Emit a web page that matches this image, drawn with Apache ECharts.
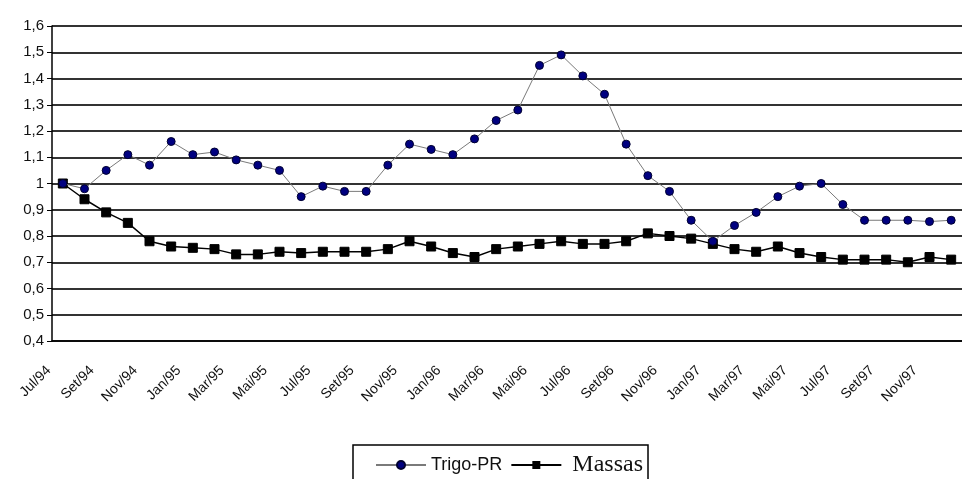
<!DOCTYPE html>
<html><head><meta charset="utf-8">
<script src="https://cdn.jsdelivr.net/npm/echarts@6/dist/echarts.min.js"></script>
<style>html,body{margin:0;padding:0;background:#fff;}#c{width:962px;height:479px;}</style>
</head><body><div id="c"></div>
<script>
const categories = ['Jul/94','Ago/94','Set/94','Out/94','Nov/94','Dez/94','Jan/95','Fev/95','Mar/95','Abr/95','Mai/95','Jun/95','Jul/95','Ago/95','Set/95','Out/95','Nov/95','Dez/95','Jan/96','Fev/96','Mar/96','Abr/96','Mai/96','Jun/96','Jul/96','Ago/96','Set/96','Out/96','Nov/96','Dez/96','Jan/97','Fev/97','Mar/97','Abr/97','Mai/97','Jun/97','Jul/97','Ago/97','Set/97','Out/97','Nov/97','Dez/97'];
const trigoPR = [1.00,0.98,1.05,1.11,1.07,1.16,1.11,1.12,1.09,1.07,1.05,0.95,0.99,0.97,0.97,1.07,1.15,1.13,1.11,1.17,1.24,1.28,1.45,1.49,1.41,1.34,1.15,1.03,0.97,0.86,0.78,0.84,0.89,0.95,0.99,1.00,0.92,0.86,0.86,0.86,0.855,0.86];
const massas = [1.00,0.94,0.89,0.85,0.78,0.76,0.755,0.75,0.73,0.73,0.74,0.735,0.74,0.74,0.74,0.75,0.78,0.76,0.735,0.72,0.75,0.76,0.77,0.78,0.77,0.77,0.78,0.81,0.80,0.79,0.77,0.75,0.74,0.76,0.735,0.72,0.71,0.71,0.71,0.70,0.72,0.71];
const yMin = 0.4, yMax = 1.6, yStep = 0.1;

const chart = echarts.init(document.getElementById('c'));
chart.setOption({
  animation: false,
  backgroundColor: '#fff',
  grid: { left: 52, top: 26, bottom: 138, right: -11, containLabel: false },
  xAxis: {
    type: 'category', data: categories, boundaryGap: true,
    axisLine: { lineStyle: { color: '#000', width: 1.5 } },
    axisTick: { interval: 0, length: 5, lineStyle: { color: '#000', width: 1 } },
    axisLabel: { interval: 1, rotate: 45, margin: 13, padding: [0, 20, 0, 0],
      fontFamily: 'Liberation Sans', fontSize: 14, color: '#111' },
    splitLine: { show: false }
  },
  yAxis: {
    type: 'value', min: yMin, max: yMax, interval: yStep,
    axisLine: { show: true, lineStyle: { color: '#000', width: 1.5 } },
    axisTick: { show: true, length: 5, lineStyle: { color: '#000' } },
    axisLabel: { margin: 8, fontFamily: 'Liberation Sans', fontSize: 15, color: '#111',
      formatter: v => String(+v.toFixed(1)).replace('.', ',') },
    splitLine: { show: true, lineStyle: { color: '#333', width: 2 } }
  },
  legend: {
    left: 353, top: 445,
    padding: [8, 5, 20, 22],
    borderColor: '#000', borderWidth: 1.5,
    itemWidth: 50, itemHeight: 10, itemGap: 8,
    data: [
      { name: 'Trigo-PR', textStyle: { fontFamily: 'Liberation Sans', fontSize: 18, color: '#111' } },
      { name: 'Massas', textStyle: { fontFamily: 'Liberation Serif', fontSize: 24, color: '#111', padding: [0, 0, 0, 6] } }
    ]
  },
  series: [
    { name: 'Trigo-PR', type: 'line', data: trigoPR, symbol: 'circle', symbolSize: 8,
      lineStyle: { color: '#7a7a7a', width: 1 },
      itemStyle: { color: '#000080', borderColor: '#000030', borderWidth: 1 } , z: 3},
    { name: 'Massas', type: 'line', data: massas, symbol: 'rect', symbolSize: 9,
      lineStyle: { color: '#000', width: 1.5 },
      itemStyle: { color: '#000', borderColor: '#000' }, z: 2 }
  ]
});
</script></body></html>
